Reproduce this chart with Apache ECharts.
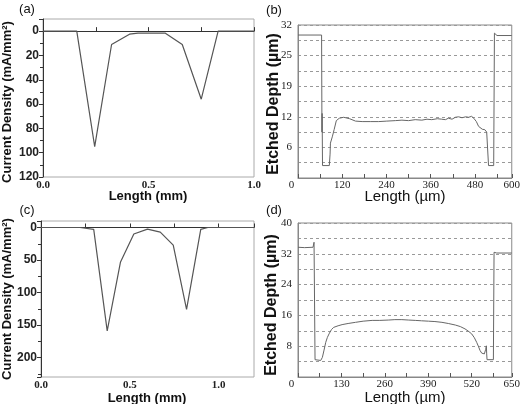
<!DOCTYPE html>
<html>
<head>
<meta charset="utf-8">
<script src="https://cdn.jsdelivr.net/npm/echarts@6/dist/echarts.min.js"></script>
<style>
html,body{margin:0;padding:0;background:#fff;}
#chart{width:523px;height:404px;}
</style>
</head>
<body>
<div id="chart"></div>
<script>
// (a) current density, mm
var aX = [0, 0.16, 0.245, 0.325, 0.41, 0.45, 0.58, 0.66, 0.75, 0.83, 1.0];
var aY = [0, 0, 95, 11, 2.5, 1.7, 1.7, 11, 56, 0, 0];
// (c) current density, mm
var cX = [0, 0.22, 0.297, 0.373, 0.448, 0.523, 0.6, 0.672, 0.745, 0.82, 0.9, 0.94, 1.2];
var cY = [0, 0, 3, 159, 53, 10, 2.5, 7, 27, 126, 3, 0, 0];
// (b) etched depth, um
var bX = [0, 64, 65, 65.5, 66.5, 70, 85, 87, 88, 93, 98, 104, 112, 124, 140, 156, 174, 196, 219, 241, 264, 282,
	300, 318, 336, 350, 363, 378, 390, 400, 408, 418, 427, 436, 445, 455, 463, 471, 477, 484, 490, 493, 500,
	507, 512, 516, 517, 531, 533, 540, 580];
var bY = [29.9, 29.9, 9.6, 13.5, 2.6, 2.6, 2.6, 5, 7.3, 8.6, 10.1, 12, 12.5, 12.7, 12.4, 11.9, 11.8, 11.8, 11.8, 11.9, 12.0, 12.1,
	12.0, 12.2, 12.1, 12.3, 12.2, 12.4, 12.3, 12.2, 12.5, 12.3, 12.7, 12.8, 12.6, 12.8, 12.7, 12.9, 12.5, 11.8, 10.8, 10.4, 10.2,
	10.1, 9.6, 9.7, 2.6, 2.6, 30.3, 29.8, 29.8];
// (d) etched depth, um
var dX = [0, 20, 45, 48, 50, 51, 68, 73, 78, 83, 88, 93, 100, 107, 120, 132, 150, 172, 195, 222, 245, 272, 290, 311,
	330, 351, 370, 391, 410, 431, 450, 471, 486, 500, 510, 520, 528, 535, 540, 545, 550, 555, 558, 562, 564, 565,
	566, 585, 587, 595, 640];
var dY = [33.7, 33.6, 33.7, 35, 34.5, 4.5, 4.3, 5.1, 7, 9.0, 10.3, 11.2, 12.3, 12.9, 13.3, 13.6, 13.9, 14.2, 14.5, 14.7, 14.7, 14.8, 14.9, 14.9,
	14.8, 14.7, 14.6, 14.5, 14.4, 14.2, 13.9, 13.5, 13.1, 12.5, 11.9, 11.2, 10.2, 9.0, 8.0, 6.9, 6.2, 5.8, 6.0, 7.2, 8.1, 6,
	4.5, 4.5, 32.4, 32.2, 32.2];

function pairs(xs, ys){
	var out = [];
	for(var i = 0; i < xs.length; i++){
		out.push([xs[i], ys[i]]);
	}
	return out;
}

var boldSans = 'Liberation Sans';
var serif = 'Liberation Serif';

// left column axes: dark left/bottom, grey top/right box
function densityX(idx, max){
	return {
		gridIndex: idx, type: 'value', min: 0, max: max, interval: 0.5,
		axisLine: {lineStyle: {color: '#333', width: 1}},
		axisTick: {inside: true, length: 4, lineStyle: {color: '#333'}},
		minorTick: {show: true, splitNumber: 2, length: 4, lineStyle: {color: '#333'}},
		splitLine: {show: false},
		axisLabel: {
			margin: 3, color: '#222', fontFamily: 'Liberation Sans Narrow', fontWeight: 'bold', fontSize: 11,
			showMaxLabel: true,
			formatter: function(v){ return (Math.abs(v * 2 - Math.round(v * 2)) < 1e-6) ? v.toFixed(1) : ''; }
		}
	};
}
function densityY(idx, min, max, step){
	return {
		gridIndex: idx, type: 'value', inverse: true, min: min, max: max,
		minInterval: step, maxInterval: step, splitNumber: Math.round((max - min) / step),
		axisLine: {lineStyle: {color: '#333', width: 1}},
		axisTick: {inside: false, length: 4, lineStyle: {color: '#333'}},
		minorTick: {show: true, splitNumber: 2, length: 3, lineStyle: {color: '#333'}},
		splitLine: {show: false},
		axisLabel: {
			margin: 4, color: '#222', fontFamily: boldSans, fontWeight: 'bold', fontSize: 12,
			formatter: function(v){ return (v < 0 || v % step !== 0) ? '' : String(v); }
		}
	};
}
function depthX(idx, max, step, shown){
	return {
		gridIndex: idx, type: 'value', min: 0, max: max, interval: step / 2,
		axisLine: {lineStyle: {color: '#888', width: 1}},
		axisTick: {inside: true, length: 4, lineStyle: {color: '#555'}},
		splitLine: {show: false},
		axisLabel: {
			margin: 2, color: '#222', fontFamily: serif, fontSize: 11, showMaxLabel: true, showMinLabel: true,
			formatter: function(v){
				if(v === 0) return '{o|0}';
				if(v === max) return String(shown);
				return v % step === 0 ? String(v) : '';
			},
			rich: {o: {fontFamily: serif, fontSize: 11, color: '#222', padding: [0, 13, 0, 0]}}
		}
	};
}
function depthY(idx, max, step, fmt){
	return {
		gridIndex: idx, type: 'value', min: 0, max: max, interval: step / 2,
		axisLine: {lineStyle: {color: '#888', width: 1}},
		axisTick: {show: false},
		splitLine: {show: true, lineStyle: {color: '#999', type: [3, 3], width: 1}},
		axisLabel: {
			margin: 6, color: '#222', fontFamily: serif, fontSize: 11, showMaxLabel: true,
			formatter: fmt
		}
	};
}

function title(text, x, y, size, weight, rot){
	return {
		type: 'text', x: x, y: y, rotation: rot || 0, z: 10,
		style: {
			text: text, fill: '#111', fontFamily: boldSans, fontSize: size, fontWeight: weight,
			align: 'center', verticalAlign: 'middle', textAlign: 'center', textVerticalAlign: 'middle'
		}
	};
}

var myChart = echarts.init(document.getElementById('chart'));
var option = {
	animation: false,
	grid: [
		{left: 43, top: 19, width: 211, height: 158, show: true, borderColor: '#aaa', borderWidth: 1},
		{left: 298, top: 25, width: 214, height: 153, show: true, borderColor: '#888', borderWidth: 1},
		{left: 41, top: 221, width: 213, height: 156, show: true, borderColor: '#aaa', borderWidth: 1},
		{left: 298, top: 223, width: 214, height: 154, show: true, borderColor: '#888', borderWidth: 1}
	],
	xAxis: [
		densityX(0, 1.0),
		depthX(1, 580, 120, 600),
		densityX(2, 1.2),
		depthX(3, 640, 130, 650)
	],
	yAxis: [
		densityY(0, -10, 120, 20),
		depthY(1, 32, 6.4, function(v){
			var k = Math.round(v / 3.2);
			return (k === 0 || k % 2) ? '' : String(Math.floor(v + 1e-6));
		}),
		densityY(2, -10, 230, 50),
		depthY(3, 40, 8, function(v){
			var k = Math.round(v / 4);
			return (k === 0 || k % 2) ? '' : String(Math.round(v));
		})
	],
	series: [
		{type: 'line', xAxisIndex: 0, yAxisIndex: 0, symbol: 'none', lineStyle: {color: '#555', width: 1.2}, data: pairs(aX, aY)},
		{type: 'line', xAxisIndex: 1, yAxisIndex: 1, symbol: 'none', lineStyle: {color: '#666', width: 1}, data: pairs(bX, bY)},
		{type: 'line', xAxisIndex: 2, yAxisIndex: 2, symbol: 'none', lineStyle: {color: '#555', width: 1.2}, data: pairs(cX, cY)},
		{type: 'line', xAxisIndex: 3, yAxisIndex: 3, symbol: 'none', lineStyle: {color: '#666', width: 1}, data: pairs(dX, dY)}
	],
	graphic: [
		title('(a)', 27, 9, 13, 'normal'),
		title('(b)', 274, 10, 13, 'normal'),
		title('(c)', 27, 210, 13, 'normal'),
		title('(d)', 274, 210, 13, 'normal'),
		title('Current Density (mA/mm\u00b2)', 7, 102, 13, 'bold', Math.PI / 2),
		title('Current Density (mA/mm\u00b2)', 7, 299, 13, 'bold', Math.PI / 2),
		title('Length (mm)', 148, 196, 13, 'bold'),
		title('Length (mm)', 147, 398, 13, 'bold'),
		title('Etched Depth (\u00b5m)', 274, 104, 16, 'bold', Math.PI / 2),
		title('Etched Depth (\u00b5m)', 272, 305, 16, 'bold', Math.PI / 2),
		title('Length (\u00b5m)', 405, 197, 15, 'normal'),
		title('Length (\u00b5m)', 405, 398, 15, 'normal')
	]
};
myChart.setOption(option);
</script>
</body>
</html>
